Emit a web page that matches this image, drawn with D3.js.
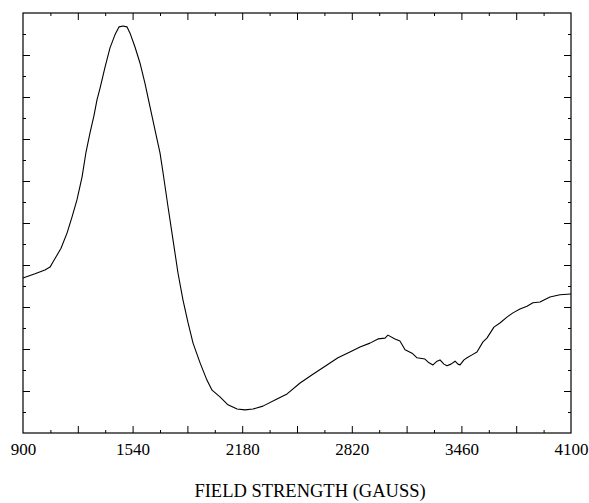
<!DOCTYPE html>
<html>
<head>
<meta charset="utf-8">
<script src="https://cdn.jsdelivr.net/npm/d3@7"></script>
<style>
  html, body { margin: 0; padding: 0; background: #fff; }
  svg { display: block; }
  .domain { display: none; }
</style>
</head>
<body>
<svg id="chart" width="589" height="503"></svg>
<script>
// Field strength (gauss)
const fieldGauss = [900,970,1028,1058,1075,1099,1122,1157,1186,1215,1245,1268,1291,1315,1332,1350,1379,1408,1437,1461,1484,1507,1525,1554,1583,1612,1642,1671,1700,1718,1747,1776,1805,1834,1864,1893,1934,1974,2004,2050,2097,2150,2196,2243,2301,2383,2442,2518,2593,2675,2739,2809,2868,2926,2973,3014,3031,3072,3101,3131,3172,3201,3247,3271,3294,3318,3335,3358,3376,3399,3423,3440,3452,3475,3493,3522,3551,3586,3609,3650,3685,3726,3761,3802,3843,3878,3919,3977,4036,4100];
// Signal (arbitrary units)
const signal = [3.69,3.79,3.88,3.95,4.07,4.24,4.40,4.76,5.14,5.55,6.10,6.69,7.14,7.57,7.93,8.21,8.71,9.17,9.48,9.67,9.69,9.67,9.52,9.19,8.81,8.33,7.76,7.21,6.67,6.19,5.38,4.60,3.81,3.17,2.62,2.14,1.67,1.26,1.02,0.86,0.67,0.57,0.55,0.57,0.64,0.81,0.93,1.19,1.40,1.62,1.79,1.93,2.05,2.14,2.24,2.26,2.33,2.24,2.19,1.98,1.90,1.79,1.76,1.67,1.62,1.71,1.74,1.64,1.60,1.64,1.71,1.64,1.62,1.74,1.79,1.86,1.93,2.17,2.26,2.52,2.62,2.76,2.86,2.95,3.02,3.10,3.12,3.24,3.29,3.31];
// Tick labels
const xTickLabels = [900,1540,2180,2820,3460,4100];
const xMajorTicks = [1220,1540,1860,2180,2500,2820,3140,3460,3780];
const xMinorTicks = [1060,1380,1700,2020,2340,2660,2980,3300,3620,3940];
const yMajorTicks = [1,2,3,4,5,6,7,8,9];
const yMinorTicks = [0.5,1.5,2.5,3.5,4.5,5.5,6.5,7.5,8.5,9.5];
const xTitle = "FIELD STRENGTH (GAUSS)";

const W = 589, H = 503;
const m = {left: 23, top: 13, right: 18, bottom: 70};
const iw = W - m.left - m.right, ih = H - m.top - m.bottom;

const svg = d3.select("#chart");
const g = svg.append("g").attr("transform", `translate(${m.left},${m.top})`);

const x = d3.scaleLinear().domain([900, 4100]).range([0, iw]);
const y = d3.scaleLinear().domain([0, 10]).range([ih, 0]);

function styleTicks(sel) {
  sel.selectAll(".tick line").attr("stroke", "#000").attr("stroke-width", 1);
  sel.select(".domain").remove();
}

// bottom ticks (inward)
g.append("g").attr("transform", `translate(0,${ih})`)
  .call(d3.axisBottom(x).tickValues(xMajorTicks).tickSize(-7).tickFormat(""))
  .call(styleTicks);
g.append("g").attr("transform", `translate(0,${ih})`)
  .call(d3.axisBottom(x).tickValues(xMinorTicks).tickSize(-3).tickFormat(""))
  .call(styleTicks);
// top ticks (inward)
g.append("g")
  .call(d3.axisTop(x).tickValues(xMajorTicks).tickSize(-7).tickFormat(""))
  .call(styleTicks);
g.append("g")
  .call(d3.axisTop(x).tickValues(xMinorTicks).tickSize(-3).tickFormat(""))
  .call(styleTicks);
// left ticks
g.append("g")
  .call(d3.axisLeft(y).tickValues(yMajorTicks).tickSize(-7).tickFormat(""))
  .call(styleTicks);
g.append("g")
  .call(d3.axisLeft(y).tickValues(yMinorTicks).tickSize(-3).tickFormat(""))
  .call(styleTicks);
// right ticks
g.append("g").attr("transform", `translate(${iw},0)`)
  .call(d3.axisRight(y).tickValues(yMajorTicks).tickSize(-7).tickFormat(""))
  .call(styleTicks);
g.append("g").attr("transform", `translate(${iw},0)`)
  .call(d3.axisRight(y).tickValues(yMinorTicks).tickSize(-3).tickFormat(""))
  .call(styleTicks);

// tick labels
const lab = g.append("g").attr("transform", `translate(0,${ih})`)
  .call(d3.axisBottom(x).tickValues(xTickLabels).tickSize(0).tickPadding(10).tickFormat(d3.format("d")));
lab.select(".domain").remove();
lab.selectAll(".tick text")
  .attr("font-family", "'Liberation Serif', 'Times New Roman', serif")
  .attr("font-size", 17)
  .attr("fill", "#000");

// frame
g.append("rect").attr("x", 0).attr("y", 0).attr("width", iw).attr("height", ih)
  .attr("fill", "none").attr("stroke", "#000").attr("stroke-width", 1.2);

// curve
const data = fieldGauss.map((f, i) => ({f, s: signal[i]}));
g.append("path").datum(data)
  .attr("fill", "none").attr("stroke", "#000").attr("stroke-width", 1.1)
  .attr("stroke-linejoin", "round")
  .attr("d", d3.line().x(d => x(d.f)).y(d => y(d.s)));

// axis title
svg.append("text")
  .attr("x", 310).attr("y", 497)
  .attr("text-anchor", "middle")
  .attr("font-family", "'Liberation Serif', 'Times New Roman', serif")
  .attr("font-size", 18.5)
  .attr("fill", "#000")
  .text(xTitle);
</script>
</body>
</html>
